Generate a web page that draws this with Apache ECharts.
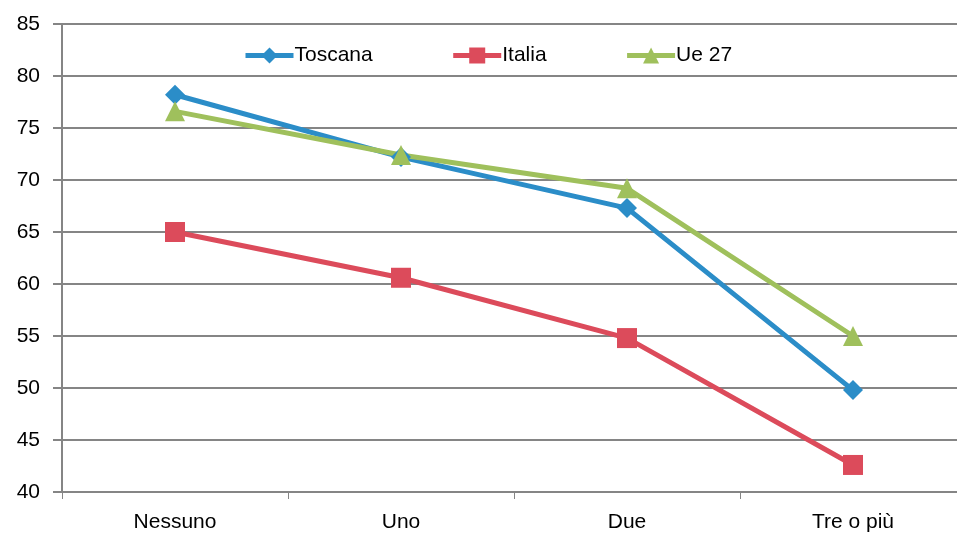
<!DOCTYPE html>
<html>
<head>
<meta charset="utf-8">
<script src="https://cdn.jsdelivr.net/npm/echarts@6/dist/echarts.min.js"></script>
<style>
html,body{margin:0;padding:0;background:#fff;}
#chart{width:957px;height:533px;}
</style>
</head>
<body>
<div id="chart"></div>
<script>
// Categories: number of children
const categories = ['Nessuno', 'Uno', 'Due', 'Tre o più'];
const toscana = [78.2, 72.2, 67.3, 49.8];
const italia = [65.0, 60.6, 54.8, 42.6];
const ue27 = [76.6, 72.4, 69.2, 55.0];
const yTicks = { min: 40, max: 85, interval: 5 };

const FONT = 'Liberation Sans, Arial, sans-serif';
const GRID_COLOR = '#858585';

const chart = echarts.init(document.getElementById('chart'), null, { renderer: 'canvas' });

function lineSeries(name, data, color, symbol, size) {
  return {
    name: name,
    type: 'line',
    data: data,
    symbol: symbol,
    symbolSize: size,
    lineStyle: { color: color, width: 5 },
    itemStyle: { color: color },
    emphasis: { disabled: true },
    animation: false
  };
}

chart.setOption({
  animation: false,
  // plot area runs slightly past the right edge of the canvas
  grid: { left: 62, width: 904, top: 24, height: 468, containLabel: false, outerBoundsMode: 'none' },
  legend: {
    top: 40,
    left: 238,
    itemGap: 78,
    itemWidth: 48,
    itemHeight: 20,
    lineStyle: { width: 5 },
    textStyle: { fontFamily: FONT, fontSize: 21, color: '#000', padding: [0, 0, 0, -4] },
    data: ['Toscana', 'Italia', 'Ue 27']
  },
  xAxis: {
    type: 'category',
    data: categories,
    boundaryGap: true,
    axisLine: { lineStyle: { color: GRID_COLOR, width: 2 } },
    axisTick: { show: true, length: 7, lineStyle: { color: GRID_COLOR, width: 1 } },
    axisLabel: { fontFamily: FONT, fontSize: 21, color: '#000', margin: 20 },
    splitLine: { show: false }
  },
  yAxis: {
    type: 'value',
    min: yTicks.min,
    max: yTicks.max,
    interval: yTicks.interval,
    axisLine: { show: true, lineStyle: { color: GRID_COLOR, width: 2 } },
    axisTick: { show: true, length: 9, lineStyle: { color: GRID_COLOR, width: 2 } },
    axisLabel: { fontFamily: FONT, fontSize: 21, color: '#000', margin: 22 },
    splitLine: { show: true, lineStyle: { color: GRID_COLOR, width: 2 } }
  },
  series: [
    lineSeries('Toscana', toscana, '#2B8DC8', 'diamond', 20),
    lineSeries('Italia', italia, '#DC4B5B', 'rect', 20),
    lineSeries('Ue 27', ue27, '#9FC05C', 'triangle', 20)
  ]
});
</script>
</body>
</html>
